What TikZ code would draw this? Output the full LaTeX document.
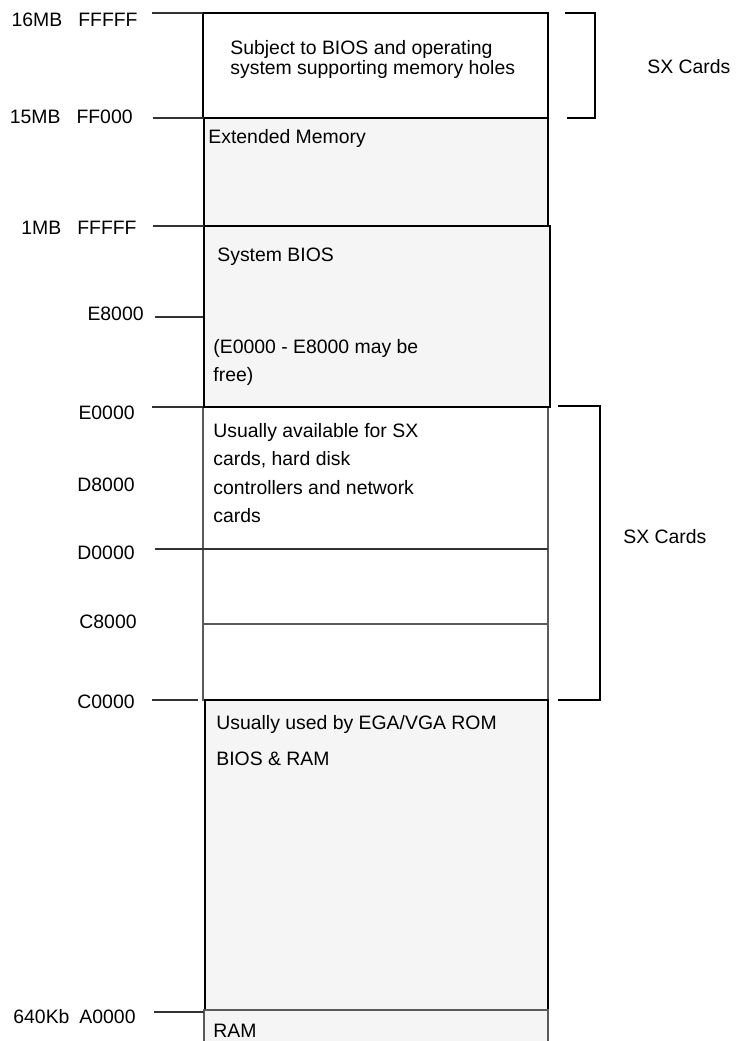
\documentclass[tikz,border=0pt]{standalone}
\usepackage{fontspec}
\setmainfont{Liberation Sans}
\usetikzlibrary{positioning}
\definecolor{gc}{RGB}{245,245,245}
\definecolor{lc}{RGB}{90,90,90}
\tikzset{hb/.style={draw,line width=1pt,fill=gc},
 wb/.style={draw,line width=.55pt},
 sb/.style={draw=lc,line width=.75pt},
 tk/.style={line width=.6pt,draw=black!80},
 brk/.style={line width=.6pt},
 lbl/.style={anchor=east,inner sep=0pt},
 txt/.style={anchor=north west,inner sep=0pt,align=left,font=\fontsize{9.7}{#1}\selectfont},txt/.default=11.6pt,
 every node/.style={font=\fontsize{9.7}{11.6}\selectfont}}
\begin{document}
\begin{tikzpicture}[x=.5pt,y=-.5pt]
\useasboundingbox (0,0) rectangle (755,1041);
% memory column
\draw[wb] (203,13) rectangle (548,118);
\draw[sb] (203,407) rectangle (548,700);
\draw[lc,line width=.55pt] (202,624)--(548,624);
\path[hb] (204,118) rectangle (548,226);
\path[hb] (204,226) rectangle (550,407);
\path[hb] (205,1010)--(205,700)--(548,700)--(548,1010);
\path[sb,fill=gc,line width=.55pt] (204,1041)--(204,1010)--(548,1010)--(548,1041);
% region texts
\node[txt=8.25pt] (hole) at (230,40) {Subject to BIOS and operating\\system supporting memory holes};
\node[txt] (ext) at (208,129) {Extended Memory};
\node[txt] (sbios) at (217,248) {System BIOS};
\node[txt=14pt] (free) at (213,339) {(E0000 - E8000 may be\\free)};
\node[txt=14.15pt] (avail) at (213,423) {Usually available for SX\\cards, hard disk\\controllers and network\\cards};
\node[txt=18pt] (ega) at (216,715) {Usually used by EGA/VGA ROM\\BIOS \& RAM};
\node[txt] (ram) at (213,1024) {RAM};
% address labels and ticks
\foreach \n/\lx/\ly/\ty/\xa/\xb/\t in {m16/138/20/13/152/203/{16MB\hspace{8pt}FFFFF},m15/133/117/118/153/204/{15MB\hspace{8pt}FF000},m1/137/228/226/153/204/{1MB\hspace{8pt}FFFFF},e8/144/314/317/155/203/E8000,e0/135/413/407/152/203/E0000,d0/135/553/549/155/548/D0000,c0/135/702/700/152/198/C0000,a0/136/1017/1012/154/204/{640Kb\hspace{5pt}A0000}}{
 \node[lbl] (\n) at (\lx,\ly) {\t};
 \draw[tk] (\xa,\ty)--(\xb,\ty);}
\node[lbl] (d8) at (135,485) {D8000};
\node[lbl] (c8) at (137,622) {C8000};
% brackets
\draw[brk] (565,13)-|(595,118)--(567,118);
\draw[brk,line width=1pt] (558,406)-|(600,700)--(558,700);
\node[anchor=west,inner sep=0pt] (sx1) at (647,67) {SX Cards};
\node[anchor=west,inner sep=0pt] (sx2) at (623,537) {SX Cards};
\end{tikzpicture}
\end{document}
